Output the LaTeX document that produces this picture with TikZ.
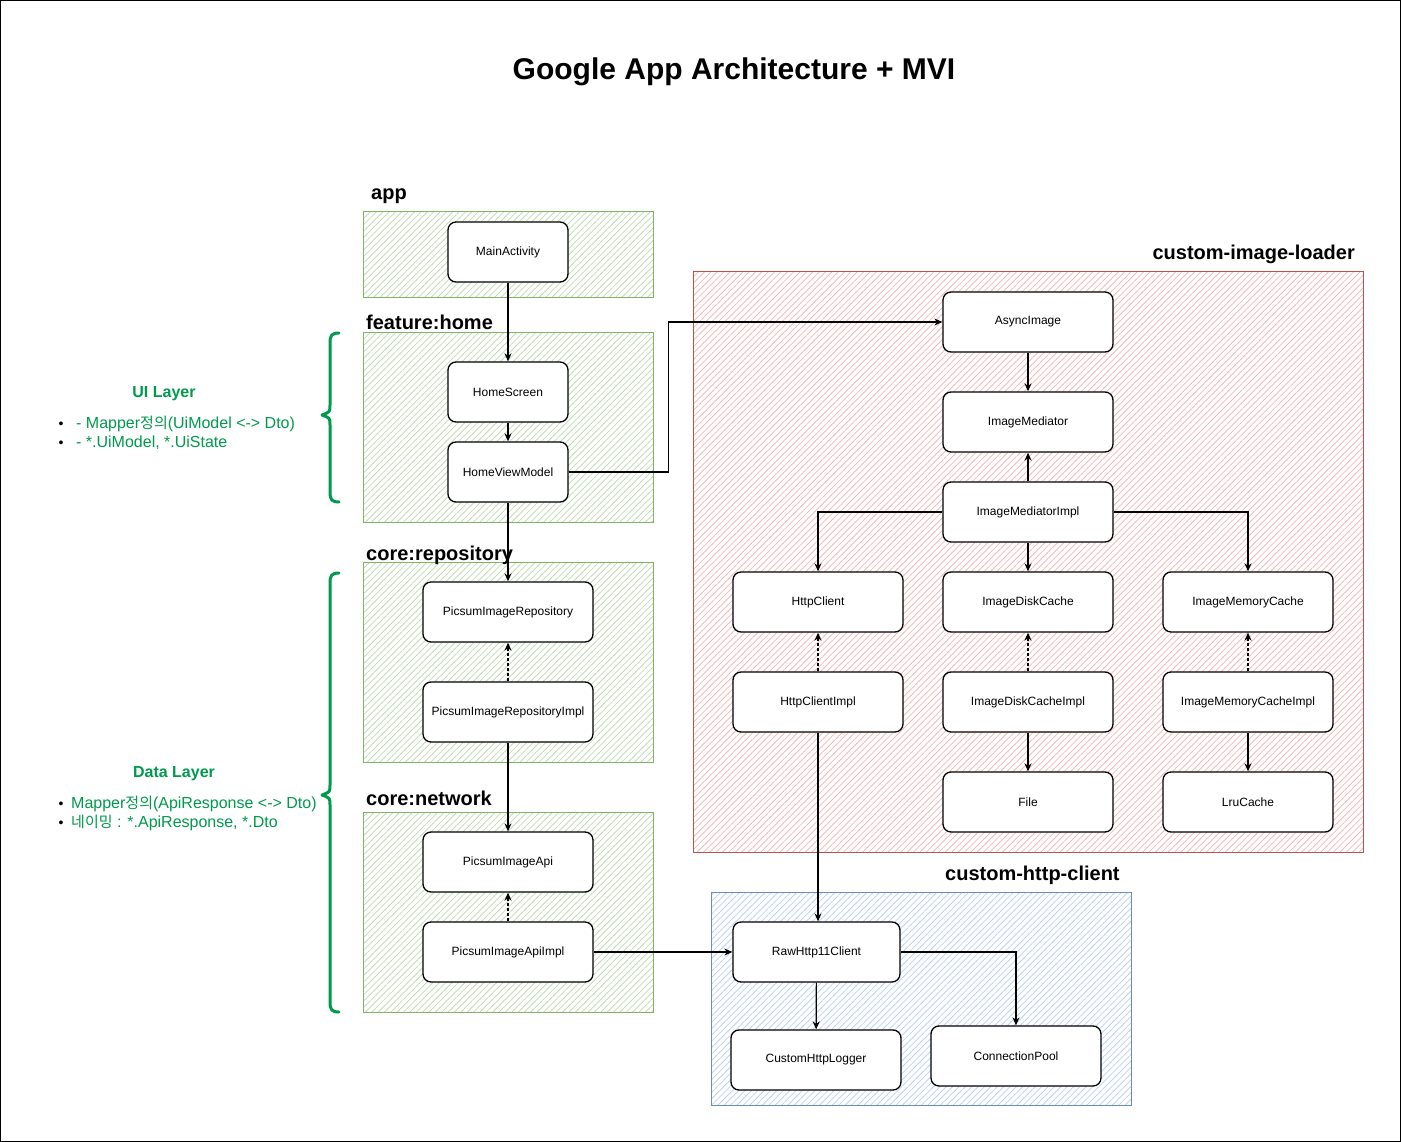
\documentclass[tikz,border=0pt]{standalone}
\usepackage{fontspec}
\setmainfont{Liberation Sans}
\newfontfamily\kr{Noto Sans CJK KR}
\usetikzlibrary{arrows.meta,patterns.meta,calc}
\definecolor{uigreen}{HTML}{00994D}
\definecolor{gstroke}{HTML}{82B366}
\definecolor{ghatch}{HTML}{BEDDB2}
\definecolor{rstroke}{HTML}{B85450}
\definecolor{rhatch}{HTML}{F4B8B6}
\definecolor{bstroke}{HTML}{6C8EBF}
\definecolor{bhatch}{HTML}{BCD2F2}
\tikzset{
  box/.style={draw=black,line width=1.3pt,rounded corners=8pt,fill=white,
    font=\fontsize{12}{14}\selectfont,align=center,inner sep=0pt},
  w120/.style={box,minimum width=120pt,minimum height=60pt},
  w170/.style={box,minimum width=170pt,minimum height=60pt},
  arr/.style={line width=1.2pt,-{Stealth[length=8pt,width=7pt]}},
  darr/.style={arr,dashed,dash pattern=on 3pt off 2pt},
  grp/.style={line width=1pt},
  hatch/.style={pattern={Lines[angle=45,distance=4.5pt,line width=0.8pt]}},
  glabel/.style={font=\fontsize{20}{24}\selectfont\bfseries,inner sep=0pt},
  brace/.style={draw=uigreen,line width=3pt,line cap=round,line join=round},
  note/.style={font=\fontsize{16}{19}\selectfont,text=uigreen,inner sep=0pt},
  notetitle/.style={font=\fontsize{16}{19}\selectfont\bfseries,text=uigreen,inner sep=0pt},
  bul/.style={font=\fontsize{14}{16}\selectfont,inner sep=0pt},
}
\begin{document}
\begin{tikzpicture}[x=1pt,y=-1pt]
\useasboundingbox (0,0) rectangle (1401,1142);
\draw[line width=0.8pt] (0.5,0.5) rectangle (1400.5,1141.5);

% title
\node[font=\fontsize{30}{36}\selectfont\bfseries,anchor=base,inner sep=0pt] (title) at (734,80) {Google App Architecture + MVI};

% green containers
\foreach \ya/\yb in {212/298,332/522,562/762,812/1012}{
  \fill[hatch,pattern color=ghatch] (363,\ya) rectangle (653,\yb);
  \draw[grp,draw=gstroke] (363,\ya) rectangle (653,\yb);
}
% red container
\fill[hatch,pattern color=rhatch] (693,272) rectangle (1363,852);
\draw[grp,draw=rstroke] (693,272) rectangle (1363,852);
% blue container
\fill[hatch,pattern color=bhatch] (711,892) rectangle (1131,1105);
\draw[grp,draw=bstroke] (711,892) rectangle (1131,1105);

% group labels
\node[glabel,anchor=base west] (lapp) at (371,200) {app};
\node[glabel,anchor=base west] (lfh) at (366,330) {feature:home};
\node[glabel,anchor=base west] (lcr) at (366,560) {core:repository};
\node[glabel,anchor=base west] (lcn) at (366,805) {core:network};
\node[glabel,anchor=base east] (lcil) at (1355,260) {custom-image-loader};
\node[glabel,anchor=base west] (lchc) at (945,880) {custom-http-client};

% nodes
\node[w120] (ma) at (508,252) {\raisebox{-1pt}{MainActivity}};
\node[w120] (hs) at (508,392) {\raisebox{-1pt}{HomeScreen}};
\node[w120] (hvm) at (508,472) {\raisebox{-1pt}{HomeViewModel}};
\node[w170] (pir) at (508,612) {\raisebox{-1pt}{PicsumImageRepository}};
\node[w170] (piri) at (508,712) {\raisebox{-1pt}{PicsumImageRepositoryImpl}};
\node[w170] (pia) at (508,862) {\raisebox{-1pt}{PicsumImageApi}};
\node[w170] (piai) at (508,952) {\raisebox{-1pt}{PicsumImageApiImpl}};

\node[w170] (ai) at (1028,322) {\raisebox{-1pt}{AsyncImage}};
\node[w170] (im) at (1028,422) {\raisebox{-1pt}{ImageMediator}};
\node[w170] (imi) at (1028,512) {\raisebox{-1pt}{ImageMediatorImpl}};
\node[w170] (hc) at (818,602) {\raisebox{-1pt}{HttpClient}};
\node[w170] (idc) at (1028,602) {\raisebox{-1pt}{ImageDiskCache}};
\node[w170] (imc) at (1248,602) {\raisebox{-1pt}{ImageMemoryCache}};
\node[w170] (hci) at (818,702) {\raisebox{-1pt}{HttpClientImpl}};
\node[w170] (idci) at (1028,702) {\raisebox{-1pt}{ImageDiskCacheImpl}};
\node[w170] (imci) at (1248,702) {\raisebox{-1pt}{ImageMemoryCacheImpl}};
\node[w170] (file) at (1028,802) {\raisebox{-1pt}{File}};
\node[w170] (lru) at (1248,802) {\raisebox{-1pt}{LruCache}};

\node[box,minimum width=167pt,minimum height=60pt] (raw) at (816.5,952) {\raisebox{-1pt}{RawHttp11Client}};
\node[w170] (chl) at (816,1060) {\raisebox{-1pt}{CustomHttpLogger}};
\node[w170] (cp) at (1016,1056) {\raisebox{-1pt}{ConnectionPool}};

% connectors
\draw[arr] (ma) -- (hs);
\draw[arr] (hs) -- (hvm);
\draw[arr] (hvm) -- (pir);
\draw[arr] (hvm.east) -- ++(100,0) |- (ai);
\draw[darr] (piri) -- (pir);
\draw[arr] (piri) -- (pia);
\draw[darr] (piai) -- (pia);
\draw[arr] (piai) -- (raw);

\draw[arr] (ai) -- (im);
\draw[arr] (imi) -- (im);
\draw[arr] (imi.west) -| (hc);
\draw[arr] (imi) -- (idc);
\draw[arr] (imi.east) -| (imc);
\draw[darr] (hci) -- (hc);
\draw[darr] (idci) -- (idc);
\draw[darr] (imci) -- (imc);
\draw[arr] (hci.south) -- (hci.south |- raw.north);
\draw[arr] (idci) -- (file);
\draw[arr] (imci) -- (lru);
\draw[arr] (raw) -- (chl);
\draw[arr] (raw.east) -| (cp);

% braces
\draw[brace] (339,333) .. controls (331,333) and (330,336) .. (330,344)
  -- (330,405) .. controls (330,412) .. (322,415) .. controls (330,418) .. (330,425)
  -- (330,492) .. controls (330,500) and (332,502) .. (339,502);
\draw[brace] (339,573) .. controls (331,573) and (330,576) .. (330,584)
  -- (330,785) .. controls (330,792) .. (322,795) .. controls (330,798) .. (330,805)
  -- (330,1002) .. controls (330,1010) and (332,1012) .. (339,1012);

% notes
\node[notetitle,anchor=base] (uil) at (164,397) {UI Layer};
\node[bul,anchor=base] (b1) at (61,428) {•};
\node[bul,anchor=base] (b2) at (61,447) {•};
\node[note,anchor=base west] (u1) at (76,428) {- Mapper{\kr\fontsize{15}{18}\selectfont 정의}(UiModel <-> Dto)};
\node[note,anchor=base west] (u2) at (76,447) {- *.UiModel, *.UiState};

\node[notetitle,anchor=base] (dl) at (174,777) {Data Layer};
\node[bul,anchor=base] (b3) at (61,808) {•};
\node[bul,anchor=base] (b4) at (61,827) {•};
\node[note,anchor=base west] (d1) at (71,808) {Mapper{\kr\fontsize{15}{18}\selectfont 정의}(ApiResponse <-> Dto)};
\node[note,anchor=base west] (d2) at (71,827) {{\kr\fontsize{15}{18}\selectfont 네이밍} : *.ApiResponse, *.Dto};
\end{tikzpicture}
\end{document}
